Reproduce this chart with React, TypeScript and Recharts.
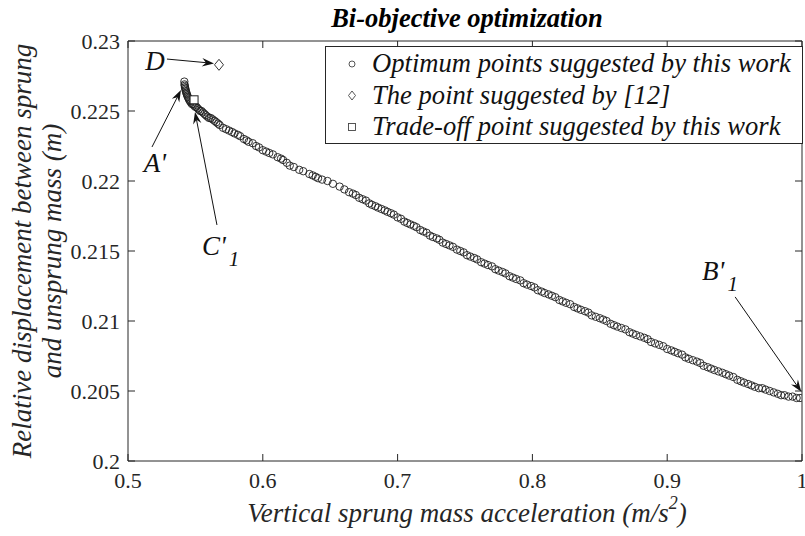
import React from 'react';
import { ScatterChart, Scatter, XAxis, YAxis, Legend, ReferenceLine, ReferenceDot } from 'recharts';

const FONT = 'Liberation Serif, Times New Roman, DejaVu Serif, serif';
const AXIS_COLOR = '#262626';

const chartTitle = 'Bi-objective optimization';
const xTitle = 'Vertical sprung mass acceleration (m/s';
const xTitleSup = '2';
const yTitleLines = ['Relative displacement between sprung', 'and unsprung mass (m)'];

const xTicks = [0.5, 0.6, 0.7, 0.8, 0.9, 1];
const xTickLabels = ['0.5', '0.6', '0.7', '0.8', '0.9', '1'];
const yTicks = [0.2, 0.205, 0.21, 0.215, 0.22, 0.225, 0.23];
const yTickLabels = ['0.2', '0.205', '0.21', '0.215', '0.22', '0.225', '0.23'];

const seriesNames = [
  'Optimum points suggested by this work',
  'The point suggested by [12]',
  'Trade-off point suggested by this work',
];

// Pareto front (optimum points)
const accelX = [
  0.5418, 0.5419, 0.5421, 0.5423, 0.5425, 0.5427, 0.5430, 0.5433, 0.5436, 0.5440,
  0.5444, 0.5449, 0.5454, 0.5460, 0.5467, 0.5474, 0.5482, 0.5490, 0.5498, 0.5507,
  0.5516, 0.5525, 0.5535, 0.5545, 0.5555, 0.5566, 0.5577, 0.5589, 0.5601, 0.5614,
  0.5628, 0.5642, 0.5655, 0.5668, 0.5680, 0.5705, 0.5728, 0.5750, 0.5772, 0.5790,
  0.5815, 0.5832, 0.5860, 0.5880, 0.5895, 0.5925, 0.5950, 0.5972, 0.6000, 0.6025,
  0.6048, 0.6075, 0.6110, 0.6135, 0.6150, 0.6178, 0.6200, 0.6230, 0.6270, 0.6300,
  0.6345, 0.6370, 0.6392, 0.6410, 0.6440, 0.6480, 0.6520, 0.6570, 0.6605, 0.6640,
  0.6668, 0.6690, 0.6715, 0.6740, 0.6765, 0.6790, 0.6810, 0.6835, 0.6855, 0.6880,
  0.6905, 0.6925, 0.6950, 0.6972, 0.7000, 0.7025, 0.7050, 0.7072, 0.7095, 0.7120,
  0.7140, 0.7168, 0.7190, 0.7215, 0.7240, 0.7262, 0.7290, 0.7310, 0.7335, 0.7360,
  0.7385, 0.7410, 0.7440, 0.7465, 0.7490, 0.7515, 0.7540, 0.7568, 0.7590, 0.7620,
  0.7645, 0.7670, 0.7700, 0.7725, 0.7750, 0.7778, 0.7800, 0.7830, 0.7855, 0.7880,
  0.7910, 0.7935, 0.7960, 0.7990, 0.8015, 0.8040, 0.8068, 0.8090, 0.8120, 0.8145,
  0.8170, 0.8200, 0.8225, 0.8250, 0.8280, 0.8310, 0.8335, 0.8360, 0.8390, 0.8415,
  0.8440, 0.8470, 0.8500, 0.8525, 0.8550, 0.8580, 0.8605, 0.8630, 0.8660, 0.8690,
  0.8720, 0.8745, 0.8770, 0.8800, 0.8830, 0.8855, 0.8880, 0.8910, 0.8940, 0.8970,
  0.9000, 0.9030, 0.9055, 0.9080, 0.9110, 0.9135, 0.9160, 0.9190, 0.9220, 0.9245,
  0.9270, 0.9300, 0.9325, 0.9350, 0.9380, 0.9410, 0.9435, 0.9460, 0.9490, 0.9520,
  0.9545, 0.9570, 0.9600, 0.9625, 0.9650, 0.9680, 0.9705, 0.9730, 0.9760, 0.9790,
  0.9820, 0.9845, 0.9870, 0.9900, 0.9930, 0.9960, 0.9985,
];
const dispY = [
  0.2271, 0.2269, 0.2268, 0.2267, 0.2266, 0.2265, 0.2264, 0.2263, 0.2262, 0.2261,
  0.2260, 0.2259, 0.2258, 0.2257, 0.2256, 0.2255, 0.2255, 0.2254, 0.2253, 0.2253,
  0.2252, 0.2251, 0.2250, 0.2250, 0.2249, 0.2248, 0.2247, 0.2246, 0.2245, 0.2245,
  0.2244, 0.2243, 0.2242, 0.2241, 0.2240, 0.2238, 0.2237, 0.2236, 0.2235, 0.2234,
  0.2233, 0.2232, 0.2230, 0.2229, 0.2228, 0.2227, 0.2225, 0.2224, 0.2222, 0.2221,
  0.2220, 0.2219, 0.2217, 0.2216, 0.2215, 0.2213, 0.2211, 0.2210, 0.2208, 0.2207,
  0.2205, 0.2204, 0.2203, 0.2202, 0.2201, 0.2200, 0.2198, 0.2196, 0.2194, 0.2192,
  0.2191, 0.2190, 0.2188, 0.2187, 0.2186, 0.2184, 0.2183, 0.2182, 0.2181, 0.2180,
  0.2179, 0.2178, 0.2177, 0.2176, 0.2174, 0.2173, 0.2171, 0.2170, 0.2169, 0.2168,
  0.2167, 0.2165, 0.2164, 0.2163, 0.2161, 0.2160, 0.2159, 0.2158, 0.2156, 0.2155,
  0.2154, 0.2153, 0.2151, 0.2150, 0.2149, 0.2147, 0.2146, 0.2145, 0.2144, 0.2142,
  0.2141, 0.2140, 0.2139, 0.2137, 0.2136, 0.2135, 0.2134, 0.2132, 0.2131, 0.2130,
  0.2129, 0.2127, 0.2126, 0.2125, 0.2124, 0.2122, 0.2121, 0.2120, 0.2119, 0.2118,
  0.2117, 0.2115, 0.2114, 0.2113, 0.2112, 0.2110, 0.2109, 0.2108, 0.2107, 0.2106,
  0.2104, 0.2103, 0.2102, 0.2101, 0.2100, 0.2098, 0.2097, 0.2096, 0.2095, 0.2094,
  0.2092, 0.2091, 0.2090, 0.2089, 0.2088, 0.2087, 0.2085, 0.2084, 0.2083, 0.2082,
  0.2080, 0.2079, 0.2078, 0.2077, 0.2076, 0.2074, 0.2073, 0.2072, 0.2071, 0.2070,
  0.2068, 0.2067, 0.2066, 0.2065, 0.2064, 0.2063, 0.2062, 0.2061, 0.2060, 0.2058,
  0.2057, 0.2056, 0.2055, 0.2054, 0.2053, 0.2052, 0.2052, 0.2051, 0.2050, 0.2049,
  0.2048, 0.2047, 0.2047, 0.2046, 0.2046, 0.2045, 0.2045,
];

const suggestedX = [0.5675];
const suggestedY = [0.2283];
const tradeoffX = [0.549];
const tradeoffY = [0.2258];

// annotation arrows: [fromX, fromY, toX, toY]
const arrowFromX = [0.5289, 0.5178, 0.5660, 0.9504];
const arrowFromY = [0.22871, 0.22243, 0.21686, 0.21172];
const arrowToX = [0.5638, 0.5393, 0.5497, 0.9995];
const arrowToY = [0.2284, 0.2265, 0.22493, 0.20494];

// annotation labels (baseline anchor)
const labelText = ['D', "A'", "C'", "B'"];
const labelSub = ['', '', '1', '1'];
const labelX = [0.5200, 0.5200, 0.5549, 0.9259];
const labelY = [0.22793, 0.22065, 0.21472, 0.21294];
const labelAnchor = ['middle', 'middle', 'start', 'start'];

const optimumData = accelX.map((x, i) => ({ x, y: dispY[i] }));
const suggestedData = suggestedX.map((x, i) => ({ x, y: suggestedY[i] }));
const tradeoffData = tradeoffX.map((x, i) => ({ x, y: tradeoffY[i] }));

const txt = (extra: any = {}) => ({ fontFamily: FONT, ...extra });

const circleShape = (p: any) => (
  <circle cx={p.cx} cy={p.cy} r={3.7} fill="none" stroke="#1e1e1e" strokeWidth={0.9} />
);
const diamondShape = (p: any) => (
  <polygon
    points={`${p.cx},${p.cy - 5.5} ${p.cx + 4.5},${p.cy} ${p.cx},${p.cy + 5.5} ${p.cx - 4.5},${p.cy}`}
    fill="#fff"
    stroke="#1e1e1e"
    strokeWidth={0.9}
  />
);
const squareShape = (p: any) => (
  <rect x={p.cx - 4} y={p.cy - 4} width={8} height={8} fill="#fff" stroke="#1e1e1e" strokeWidth={1} />
);

const arrowShape = (p: any) => {
  const { x1, y1, x2, y2 } = p;
  const dx = x2 - x1;
  const dy = y2 - y1;
  const len = Math.hypot(dx, dy) || 1;
  const ux = dx / len;
  const uy = dy / len;
  const L = 12;
  const W = 4.2;
  const N = 8;
  const bx = x2 - ux * L;
  const by = y2 - uy * L;
  const nx = -uy;
  const ny = ux;
  const pts = `${x2},${y2} ${bx + nx * W},${by + ny * W} ${x2 - ux * N},${y2 - uy * N} ${bx - nx * W},${by - ny * W}`;
  return (
    <g>
      <line x1={x1} y1={y1} x2={x2 - ux * N} y2={y2 - uy * N} stroke="#111" strokeWidth={1} />
      <polygon points={pts} fill="#111" />
    </g>
  );
};

const makeLabelShape = (i: number) => (p: any) => (
  <text
    x={p.cx}
    y={p.cy}
    textAnchor={labelAnchor[i] as any}
    style={txt({ fontStyle: 'italic', fontSize: 27 })}
    fill="#111"
  >
    {labelText[i]}
    {labelSub[i] ? (
      <tspan dx={3} dy={11} style={{ fontSize: 21 }}>
        {labelSub[i]}
      </tspan>
    ) : null}
  </text>
);

const BottomTick = (props: any) => {
  const { x, y, payload } = props;
  const i = xTicks.indexOf(payload.value);
  return (
    <g>
      <line x1={x} x2={x} y1={y} y2={y - 7} stroke={AXIS_COLOR} />
      <text x={x} y={y + 27} textAnchor="middle" style={txt({ fontSize: 22 })} fill={AXIS_COLOR}>
        {i >= 0 ? xTickLabels[i] : payload.value}
      </text>
    </g>
  );
};
const TopTick = (props: any) => {
  const { x, y } = props;
  return <line x1={x} x2={x} y1={y} y2={y + 7} stroke={AXIS_COLOR} />;
};
const LeftTick = (props: any) => {
  const { x, y, payload } = props;
  const i = yTicks.indexOf(payload.value);
  return (
    <g>
      <line x1={x} x2={x + 7} y1={y} y2={y} stroke={AXIS_COLOR} />
      <text x={x - 8} y={y} dy="0.35em" textAnchor="end" style={txt({ fontSize: 22 })} fill={AXIS_COLOR}>
        {i >= 0 ? yTickLabels[i] : payload.value}
      </text>
    </g>
  );
};
const RightTick = (props: any) => {
  const { x, y } = props;
  return <line x1={x} x2={x - 7} y1={y} y2={y} stroke={AXIS_COLOR} />;
};

const legendMarker = (i: number, cx: number, cy: number) => {
  if (i === 0) return <circle cx={cx} cy={cy} r={3} fill="none" stroke="#444" strokeWidth={0.9} />;
  if (i === 1)
    return (
      <polygon
        points={`${cx},${cy - 4.5} ${cx + 3.5},${cy} ${cx},${cy + 4.5} ${cx - 3.5},${cy}`}
        fill="none"
        stroke="#444"
        strokeWidth={0.9}
      />
    );
  return <rect x={cx - 3.5} y={cy - 3.5} width={7} height={7} fill="none" stroke="#444" strokeWidth={0.9} />;
};

const LegendBox = () => (
  <svg width={478} height={98} style={{ display: 'block' }}>
    <rect x={0.5} y={0.5} width={477} height={97} fill="#fff" stroke={AXIS_COLOR} strokeWidth={1} />
    {seriesNames.map((name, i) => {
      const base = 26 + i * 31.5;
      return (
        <g key={name}>
          {legendMarker(i, 27, base - 8)}
          <text x={47} y={base} style={txt({ fontStyle: 'italic', fontSize: 26.6 })} fill="#111">
            {name}
          </text>
        </g>
      );
    })}
  </svg>
);

export default function App() {
  return (
    <div style={{ position: 'absolute', left: 0, top: 0, fontFamily: FONT }}>
      <ScatterChart width={805} height={536} margin={{ top: 0, right: 0, bottom: 0, left: 0 }}>
        <XAxis
          xAxisId={0}
          type="number"
          dataKey="x"
          domain={[0.5, 1]}
          ticks={xTicks}
          interval={0}
          height={75}
          tickSize={0}
          tickMargin={0}
          tickLine={false}
          axisLine={{ stroke: AXIS_COLOR }}
          tick={BottomTick}
          allowDataOverflow
          label={(p: any) => {
            const vb = p.viewBox;
            return (
              <text
                x={vb.x + vb.width / 2 + 2}
                y={vb.y + 61}
                textAnchor="middle"
                style={txt({ fontStyle: 'italic', fontSize: 27 })}
                fill={AXIS_COLOR}
              >
                <tspan>{xTitle}</tspan>
                <tspan dy={-13} style={{ fontSize: 18 }}>{xTitleSup}</tspan>
                <tspan dy={13}>)</tspan>
              </text>
            );
          }}
        />
        <XAxis
          xAxisId="top"
          orientation="top"
          type="number"
          dataKey="x"
          domain={[0.5, 1]}
          ticks={xTicks}
          interval={0}
          height={41}
          tickSize={0}
          tickMargin={0}
          tickLine={false}
          axisLine={{ stroke: AXIS_COLOR }}
          tick={TopTick}
          allowDataOverflow
          label={(p: any) => {
            const vb = p.viewBox;
            return (
              <text
                x={vb.x + vb.width / 2 + 2}
                y={vb.y + 27}
                textAnchor="middle"
                style={txt({ fontStyle: 'italic', fontWeight: 'bold', fontSize: 26.5 })}
                fill="#000"
              >
                {chartTitle}
              </text>
            );
          }}
        />
        <YAxis
          yAxisId={0}
          type="number"
          dataKey="y"
          domain={[0.2, 0.23]}
          ticks={yTicks}
          interval={0}
          width={128}
          tickSize={0}
          tickMargin={0}
          tickLine={false}
          axisLine={{ stroke: AXIS_COLOR }}
          tick={LeftTick}
          allowDataOverflow
          label={(p: any) => {
            const vb = p.viewBox;
            const cy = vb.y + vb.height / 2;
            const xs = [31, 61];
            return (
              <g>
                {yTitleLines.map((t, i) => (
                  <text
                    key={t}
                    x={xs[i]}
                    y={cy}
                    transform={`rotate(-90 ${xs[i]} ${cy})`}
                    textAnchor="middle"
                    style={txt({ fontStyle: 'italic', fontSize: 27 })}
                    fill={AXIS_COLOR}
                  >
                    {t}
                  </text>
                ))}
              </g>
            );
          }}
        />
        <YAxis
          yAxisId="right"
          orientation="right"
          type="number"
          dataKey="y"
          domain={[0.2, 0.23]}
          ticks={yTicks}
          interval={0}
          width={3}
          tickSize={0}
          tickMargin={0}
          tickLine={false}
          axisLine={{ stroke: AXIS_COLOR }}
          tick={RightTick}
          allowDataOverflow
        />
        <Legend
          layout="vertical"
          align="center"
          verticalAlign="middle"
          wrapperStyle={{ position: 'absolute', left: 325, top: 46, width: 478, height: 98 }}
          content={() => <LegendBox />}
        />
        <Scatter
          name={seriesNames[0]}
          data={optimumData}
          xAxisId={0}
          yAxisId={0}
          shape={circleShape}
          isAnimationActive={false}
        />
        <Scatter
          name={seriesNames[1]}
          data={suggestedData}
          xAxisId={0}
          yAxisId={0}
          shape={diamondShape}
          isAnimationActive={false}
        />
        <Scatter
          name={seriesNames[2]}
          data={tradeoffData}
          xAxisId={0}
          yAxisId={0}
          shape={squareShape}
          isAnimationActive={false}
        />
        {arrowFromX.map((fx, i) => (
          <ReferenceLine
            key={`arrow-${i}`}
            xAxisId={0}
            yAxisId={0}
            segment={[
              { x: fx, y: arrowFromY[i] },
              { x: arrowToX[i], y: arrowToY[i] },
            ]}
            ifOverflow="visible"
            shape={arrowShape}
          />
        ))}
        {labelText.map((t, i) => (
          <ReferenceDot
            key={`label-${i}`}
            xAxisId={0}
            yAxisId={0}
            x={labelX[i]}
            y={labelY[i]}
            ifOverflow="visible"
            shape={makeLabelShape(i)}
          />
        ))}
      </ScatterChart>
    </div>
  );
}
